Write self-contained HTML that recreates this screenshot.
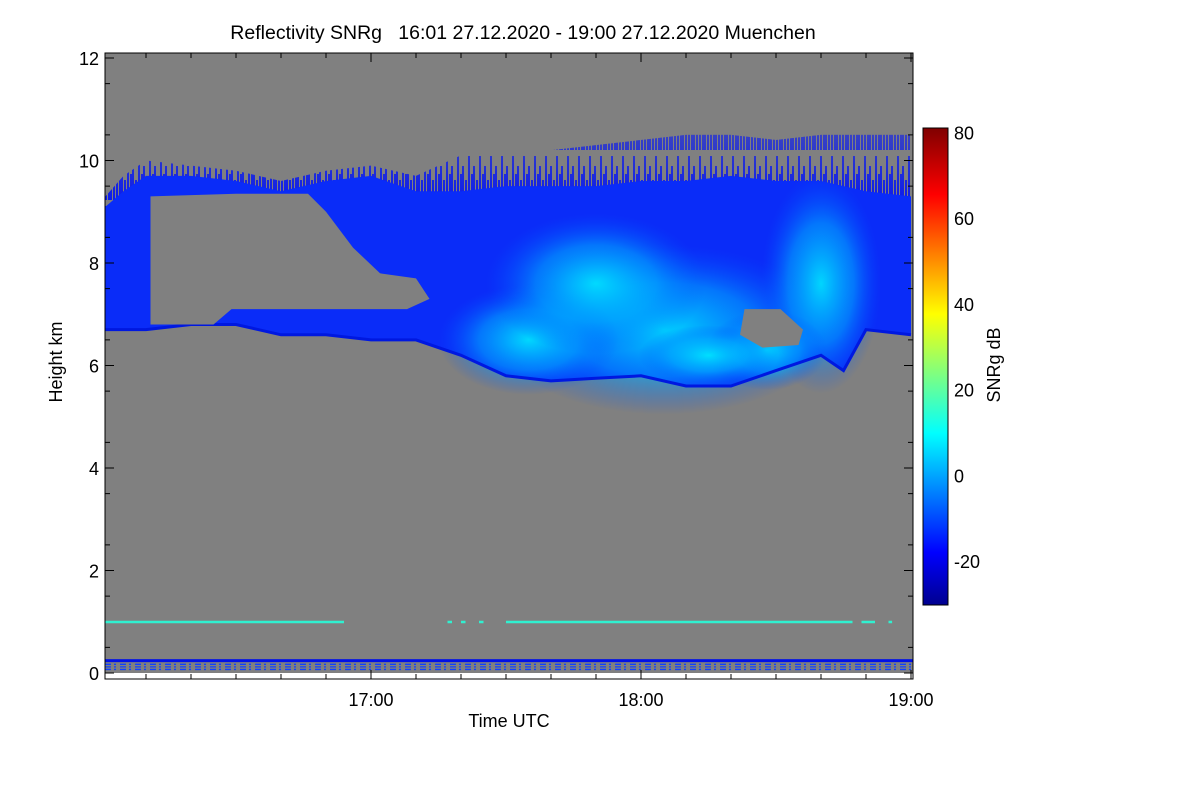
<!DOCTYPE html>
<html><head><meta charset="utf-8"><title>Reflectivity SNRg</title>
<style>
html,body{margin:0;padding:0;background:#fff;}
svg{display:block;font-family:"Liberation Sans",Arial,sans-serif;}
</style></head>
<body>
<svg id="chart" width="1200" height="800" viewBox="0 0 1200 800" xmlns="http://www.w3.org/2000/svg">
<defs>
  <linearGradient id="jet" x1="0" y1="1" x2="0" y2="0">
    <stop offset="0" stop-color="#00008f"/>
    <stop offset="0.11" stop-color="#0000ff"/>
    <stop offset="0.36" stop-color="#00ffff"/>
    <stop offset="0.61" stop-color="#ffff00"/>
    <stop offset="0.86" stop-color="#ff0000"/>
    <stop offset="1" stop-color="#800000"/>
  </linearGradient>
  <radialGradient id="core1" cx="0.5" cy="0.5" r="0.5">
    <stop offset="0" stop-color="#00e8ff" stop-opacity="0.9"/>
    <stop offset="0.55" stop-color="#00a8ff" stop-opacity="0.6"/>
    <stop offset="1" stop-color="#0050ff" stop-opacity="0"/>
  </radialGradient>
  <linearGradient id="fringeFade" x1="0" y1="0" x2="0" y2="1">
    <stop offset="0" stop-color="#808080" stop-opacity="0.4"/>
    <stop offset="1" stop-color="#808080" stop-opacity="0"/>
  </linearGradient>
  <pattern id="streaks" width="11" height="50" patternUnits="userSpaceOnUse">
    <rect x="0" y="0" width="11" height="50" fill="#808080"/>
    <rect x="0" y="16" width="2" height="34" fill="#0818f0"/>
    <rect x="3" y="30" width="2" height="20" fill="#0818f0"/>
    <rect x="6" y="6" width="2" height="44" fill="#0818f0"/>
    <rect x="9" y="24" width="2" height="26" fill="#0818f0"/>
  </pattern>
  <clipPath id="plotclip"><rect x="105" y="53" width="808" height="620"/></clipPath>
</defs>
<rect x="105" y="53" width="808" height="620" fill="#808080"/>
<g id="layers" clip-path="url(#plotclip)"></g>
<rect x="105" y="673" width="808" height="6" fill="#fff"/>
<rect x="105" y="53" width="808" height="626" fill="none" stroke="#000" stroke-width="1"/>
<g id="axes"></g>
<text x="523" y="39" font-size="19.5" text-anchor="middle" style="white-space:pre" xml:space="preserve">Reflectivity SNRg   16:01 27.12.2020 - 19:00 27.12.2020 Muenchen</text>
<text x="509" y="727" font-size="18" text-anchor="middle">Time UTC</text>
<text transform="translate(62,362) rotate(-90)" font-size="18" text-anchor="middle">Height km</text>
<rect x="923" y="128" width="25" height="477" fill="url(#jet)" stroke="#000" stroke-width="1"/>
<text transform="translate(1000,365) rotate(-90)" font-size="18" text-anchor="middle">SNRg dB</text>
</svg>
<script>
// time in minutes after 16:00, heights in km
const times    = [1, 5, 10, 20, 30, 40, 50, 60, 70, 80, 90, 100, 110, 120, 130, 140, 150, 160, 165, 170, 180];
const topKm    = [9.1, 9.4, 9.7, 9.7, 9.6, 9.4, 9.6, 9.7, 9.4, 9.4, 9.5, 9.5, 9.5, 9.6, 9.6, 9.7, 9.6, 9.6, 9.5, 9.4, 9.3];
const streakKm = [9.3, 9.7,10.0, 9.9, 9.8, 9.6, 9.8, 9.9, 9.7,10.1,10.2,10.2,10.3,10.4,10.5,10.5,10.4,10.5,10.5,10.5,10.5];
const baseKm   = [6.7, 6.7, 6.7, 6.8, 6.8, 6.6, 6.6, 6.5, 6.5, 6.2, 5.8, 5.7, 5.75,5.8, 5.6, 5.6, 5.9, 6.2, 5.9, 6.7, 6.6];
const holeTimes = [11, 30, 46, 50, 56, 62, 70, 73, 68, 50, 29, 25, 11];
const holeKm    = [9.3, 9.35, 9.35, 9.0, 8.3, 7.8, 7.7, 7.3, 7.1, 7.1, 7.1, 6.8, 6.8];
const hole2Times = [143, 151, 156, 155, 147, 142];
const hole2Km    = [7.1, 7.1, 6.7, 6.4, 6.35, 6.6];
const coreTimes = [125, 160, 95, 148, 110, 135];
const coreKm    = [6.7, 7.6, 6.5, 6.3, 7.6, 6.2];
const coreRx    = [170, 60, 90, 60, 110, 70];
const coreRy    = [85, 110, 55, 40, 70, 30];
const yTicks = [0, 2, 4, 6, 8, 10, 12];
const xTicks = [60, 120, 180];
const xTickLabels = ["17:00", "18:00", "19:00"];
const cbTicks = [-20, 0, 20, 40, 60, 80];

const NS = "http://www.w3.org/2000/svg";
const xS = m => 101 + m * 270 / 60;
const yS = k => 673 - k * 51.25;
const cS = v => 561 - (v + 20) * 428.5 / 100;
const layers = document.getElementById('layers');
const axes = document.getElementById('axes');
function mk(tag, attrs, parent) {
  const e = document.createElementNS(NS, tag);
  for (const k in attrs) e.setAttribute(k, attrs[k]);
  parent.appendChild(e); return e;
}
function pts(ts, ks) { return ts.map((t, i) => xS(t).toFixed(1) + ',' + yS(ks[i]).toFixed(1)); }

// streaky fringe above the cloud
let p = mk('polygon', {points: pts(times, streakKm).concat(pts(times, topKm.map(v => v - 0.1)).reverse()).join(' '), fill: 'url(#streaks)'}, layers);


p = mk('polygon', {points: pts(times, streakKm).concat(pts(times, topKm).reverse()).join(' '), fill: 'url(#fringeFade)'}, layers);


// main cloud body
p = mk('polygon', {points: pts(times, topKm).concat(pts(times, baseKm).reverse()).join(' '), fill: '#0a2cf8'}, layers);


// bright cores
coreTimes.forEach((t, i) => {
  const e = mk('ellipse', {cx: xS(t), cy: yS(coreKm[i]), rx: coreRx[i], ry: coreRy[i], fill: 'url(#core1)'}, layers);
  
  
});
// cloud base outline (dark blue edge)
p = mk('polyline', {points: pts(times, baseKm).join(' '), fill: 'none', stroke: '#0018e0', 'stroke-width': 3}, layers);


// gray holes
p = mk('polygon', {points: pts(holeTimes, holeKm).join(' '), fill: '#808080'}, layers);


p = mk('polygon', {points: pts(hole2Times, hole2Km).join(' '), fill: '#808080'}, layers);



// near-ground lines
const cyanSegs = [[0, 54], [77, 78], [80, 81], [84, 85], [90, 167], [169, 172], [175, 175.8]];
cyanSegs.forEach(s => {
  const r = mk('rect', {x: xS(s[0]), y: yS(1.0) - 1, width: Math.max(2, xS(s[1]) - xS(s[0])), height: 2.5, fill: '#30f0d0'}, layers);
  
  
});
let r = mk('rect', {x: 105, y: yS(0.27), width: 808, height: 3, fill: '#0010e8'}, layers);


[0.17, 0.12, 0.07].forEach(k => {
  const l = mk('line', {x1: 105, x2: 913, y1: yS(k), y2: yS(k), stroke: '#1040ff', 'stroke-width': 1.3, 'stroke-dasharray': '6 3 2 4'}, layers);
  
  
});

// y ticks
yTicks.forEach(v => {
  const y = yS(v);
  mk('line', {x1: 105, x2: 114, y1: y, y2: y, stroke: '#000'}, axes);
  mk('line', {x1: 904, x2: 913, y1: y, y2: y, stroke: '#000'}, axes);
  const t = mk('text', {x: 99, y: y + 7, 'font-size': 18, 'text-anchor': 'end'}, axes);
  t.textContent = v;
  
  
});
for (let v = 0.5; v < 12; v += 1) {
  const y = yS(v);
  mk('line', {x1: 105, x2: 110, y1: y, y2: y, stroke: '#000'}, axes);
  mk('line', {x1: 908, x2: 913, y1: y, y2: y, stroke: '#000'}, axes);
}
// x ticks
for (let m = 10; m <= 180; m += 10) {
  const x = xS(m), major = m % 60 === 0;
  mk('line', {x1: x, x2: x, y1: 679, y2: major ? 670 : 674, stroke: '#000'}, axes);
  mk('line', {x1: x, x2: x, y1: 53, y2: major ? 62 : 58, stroke: '#000'}, axes);
}
xTicks.forEach((m, i) => {
  const t = mk('text', {x: xS(m), y: 706, 'font-size': 18, 'text-anchor': 'middle'}, axes);
  t.textContent = xTickLabels[i];
  
  
});
// colorbar ticks
cbTicks.forEach(v => {
  const y = cS(v);
  mk('line', {x1: 942, x2: 948, y1: y, y2: y, stroke: '#000'}, axes);
  const t = mk('text', {x: 954, y: y + 7, 'font-size': 18}, axes);
  t.textContent = v;
  
  
});
</script>
</body></html>
